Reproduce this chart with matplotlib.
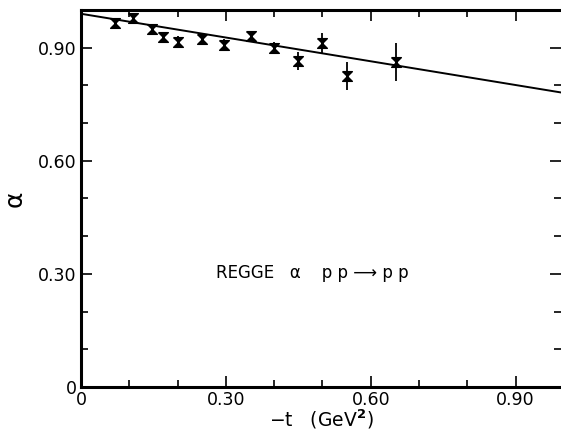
import matplotlib
matplotlib.use("Agg")
import matplotlib.pyplot as plt
from matplotlib.ticker import MultipleLocator

# data
t_vals = [0.07, 0.108, 0.147, 0.17, 0.20, 0.25, 0.296, 0.352, 0.40, 0.45, 0.50, 0.55, 0.652]
alpha_vals = [0.965, 0.978, 0.950, 0.928, 0.915, 0.922, 0.907, 0.931, 0.900, 0.865, 0.912, 0.825, 0.862]
alpha_err = [0.012, 0.012, 0.014, 0.014, 0.016, 0.016, 0.016, 0.014, 0.015, 0.024, 0.027, 0.037, 0.050]

fit_t = [0.0, 1.0]
fit_alpha = [0.99, 0.78]

xticks = [0, 0.30, 0.60, 0.90]
xtick_labels = ["0", "0.30", "0.60", "0.90"]
yticks = [0, 0.30, 0.60, 0.90]
ytick_labels = ["0", "0.30", "0.60", "0.90"]

hourglass = [(-1, 1), (1, 1), (-1, -1), (1, -1), (-1, 1)]

fig = plt.figure(figsize=(5.61, 4.41), dpi=100)
ax = fig.add_axes([81 / 561, 54 / 441, 480 / 561, 377 / 441])

ax.plot(fit_t, fit_alpha, color="black", linewidth=1.4)
ax.errorbar(t_vals, alpha_vals, yerr=alpha_err, fmt="none", ecolor="black",
            elinewidth=1.3, capsize=0)
ax.plot(t_vals, alpha_vals, linestyle="none", marker=hourglass, markersize=7,
        color="black", markeredgewidth=1.0)

ax.set_xlim(0, 0.994)
ax.set_ylim(0, 1.0)

ax.set_xticks(xticks)
ax.set_xticklabels(xtick_labels)
ax.set_yticks(yticks)
ax.set_yticklabels(ytick_labels)
ax.xaxis.set_minor_locator(MultipleLocator(0.1))
ax.yaxis.set_minor_locator(MultipleLocator(0.1))

ax.tick_params(which="both", direction="in", top=True, right=True,
               labelsize=12.5, width=1.2, pad=3)
ax.tick_params(which="major", length=8)
ax.tick_params(which="minor", length=5)

for side in ["left", "bottom", "top"]:
    ax.spines[side].set_linewidth(2.2)
ax.spines["right"].set_visible(False)

ax.set_xlabel(r"$-$t   (GeV$^{\mathbf{2}}$)", fontsize=13.5, labelpad=-1)
ax.set_ylabel("α", fontsize=18, labelpad=8)

ax.text(0.28, 0.29, "REGGE   α    p p ⟶ p p", fontsize=12,
        transform=ax.transData)

fig.savefig("out.png", dpi=100)
